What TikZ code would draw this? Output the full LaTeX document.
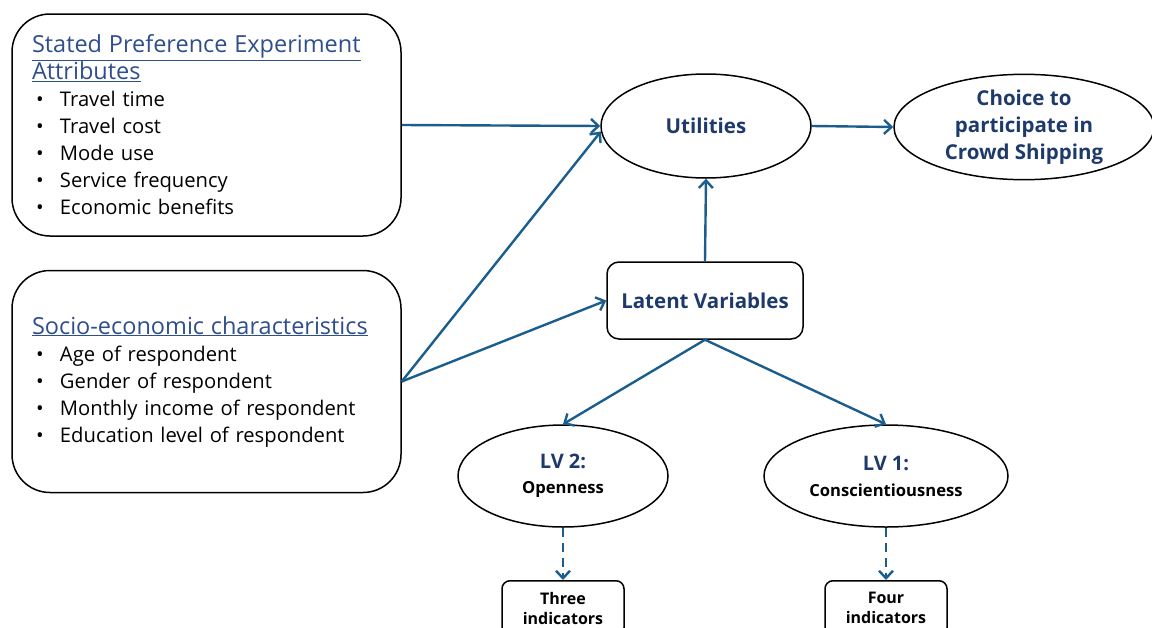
\documentclass[tikz,border=0pt]{standalone}
\usepackage{fontspec}
\setmainfont{Open Sans}
\usetikzlibrary{shapes.geometric,arrows.meta}
\definecolor{arrowblue}{HTML}{1B5E8E}
\definecolor{navy}{HTML}{1D3A6B}
\definecolor{linkblue}{HTML}{2E4E8C}
\newcommand{\bitem}[1]{\makebox[28pt][l]{\hspace{4pt}\textbullet}#1}
\newcommand{\ulink}[1]{{\color{linkblue}\fontsize{23.5}{28}\selectfont\underline{#1}}}
\begin{document}
\begin{tikzpicture}[x=1pt,y=-1pt,
  bigbox/.style={draw=black, line width=1.5pt, rounded corners=38pt,
    minimum width=389pt, minimum height=222pt, text width=349pt,
    align=left, inner xsep=20pt, font=\fontsize{20.2}{27}\selectfont},
  oval/.style={ellipse, draw=black, line width=1.5pt, inner sep=0pt, align=center},
  navytext/.style={text=navy, font=\fontsize{20.5}{27}\selectfont\bfseries},
  smallbox/.style={draw=black, line width=1.5pt, rounded corners=8pt,
    minimum width=122pt, minimum height=55pt, align=center, anchor=north,
    font=\fontsize{16}{20}\selectfont\bfseries, inner sep=1pt},
  arr/.style={draw=arrowblue, line width=2.4pt, -{Straight Barb[length=7.5pt,width=14pt,line width=2.4pt]}},
  darr/.style={arr, dash pattern=on 9pt off 6pt}
]
\useasboundingbox (0,0) rectangle (1152,627);

\node[bigbox] (sp) at (206.5,125) {%
  \ulink{Stated Preference Experiment}\\
  \ulink{Attributes}\\
  \bitem{Travel time}\\
  \bitem{Travel cost}\\
  \bitem{Mode use}\\
  \bitem{Service frequency}\\
  \bitem{Economic benefits}};

\node[bigbox] (se) at (206.5,381.5) {%
  \ulink{Socio-economic characteristics}\\
  \bitem{Age of respondent}\\
  \bitem{Gender of respondent}\\
  \bitem{Monthly income of respondent}\\
  \bitem{Education level of respondent}};

\node[oval, minimum width=210pt, minimum height=104pt, navytext] (util) at (706,126) {Utilities};
\node[oval, minimum width=260pt, minimum height=102pt, navytext] (choice) at (1024,127)
  {Choice to\\participate in\\Crowd Shipping};
\node[draw=black, line width=1.5pt, rounded corners=12pt, minimum width=196pt,
  minimum height=77pt, navytext] (lat) at (705,300.5) {Latent Variables};

\node[oval, minimum width=210pt, minimum height=102pt] (lv2) at (563,476)
  {{\color{navy}\fontsize{20}{24}\selectfont\bfseries LV 2:}\\[12pt]{\fontsize{16.6}{18}\selectfont\bfseries Openness}};
\node[oval, minimum width=244pt, minimum height=102pt] (lv1) at (886,476)
  {{\color{navy}\fontsize{20}{24}\selectfont\bfseries LV 1:}\\[12pt]{\fontsize{16.6}{18}\selectfont\bfseries Conscientiousness}};

\node[smallbox] (ind3) at (563,580) {Three\\indicators};
\node[smallbox] (ind4) at (886,580) {Four\\indicators};

\draw[arr] (sp.east) -- (util.west);
\draw[arr] (se.east) -- (util.183);
\draw[arr] (se.east) -- (lat.west);
\draw[arr] (lat.north) -- (util.south);
\draw[arr] (util.east) -- (choice.west);
\draw[arr] (lat.south) -- (lv2.north);
\draw[arr] (lat.south) -- (lv1.north);
\draw[darr] (lv2.south) -- (ind3.north);
\draw[darr] (lv1.south) -- (ind4.north);
\end{tikzpicture}
\end{document}
